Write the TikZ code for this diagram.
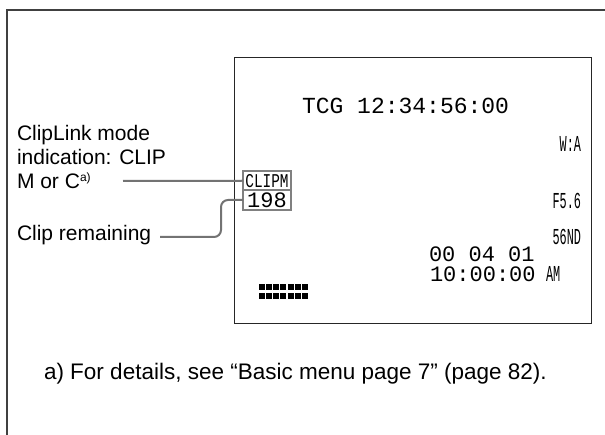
\documentclass[tikz,border=0pt]{standalone}
\usepackage{fontspec}
\setmainfont{Liberation Sans}
\newfontfamily\lcd{Liberation Mono}
\newfontfamily\lcdn[FakeStretch=0.52]{Liberation Mono}
\newfontfamily\lcdc[FakeStretch=0.74]{Liberation Mono}
\begin{document}
\begin{tikzpicture}[x=1pt,y=-1pt,
  txt/.style={inner sep=0pt,outer sep=0pt,anchor=base west},
  lbl/.style={txt,font=\fontsize{21}{24}\selectfont},
  lcdbig/.style={txt,font=\fontsize{23}{24}\selectfont\lcd},
  lcdmid/.style={txt,font=\fontsize{22}{24}\selectfont\lcd},
  lcdsmall/.style={inner sep=0pt,outer sep=0pt,anchor=base east,font=\fontsize{22.8}{24}\selectfont\lcdn},
  frame/.style={line width=1.4pt,draw=black!75},
  screen/.style={line width=1.3pt,draw=black!85},
  gbox/.style={draw=black!50,line width=2pt,minimum width=48pt,inner sep=0pt,outer sep=0pt},
  leader/.style={draw=black!55,line width=2pt}
]
\useasboundingbox (0,0) rectangle (605,435);
% page frame (top and left edges)
\coordinate (pgtr) at (606,10);
\coordinate (pgtl) at (7,10);
\coordinate (pgbl) at (7,436);
\draw[frame] (pgtr) -- (pgtl) -- (pgbl);
% viewfinder screen
\node[screen,rectangle,minimum width=357pt,minimum height=266pt,anchor=north west,inner sep=0pt] (scr) at (234,57) {};
% screen texts
\node[lcdbig] (tcg) at (302,114) {TCG 12:34:56:00};
\node[lcdsmall] (wa) at (581,152) {W:A};
\node[lcdsmall] (fno) at (581,209) {F5.6};
\node[lcdsmall] (nd) at (581,245) {56ND};
\node[lcdmid] (date) at (429,262) {00 04 01};
\node[lcdmid] (time) at (430,282) {10:00:00};
\node[txt,font=\fontsize{22.8}{24}\selectfont\lcdn] (am) at (546,282) {AM};
% battery blocks
\foreach \r in {0,1}{
  \foreach \i in {0,...,6}{
    \fill (259+7.15*\i,284.5+9*\r) rectangle +(6,5.5);
  }
}
% boxed CLIPM and 198
\node[gbox,minimum height=19.5pt,anchor=north west,font=\fontsize{19.5}{20}\selectfont\lcdc] (clipm) at (243,171) {CLIPM};
\node[gbox,minimum height=20pt,anchor=north west,font=\fontsize{22}{22}\selectfont\lcd] (rem) at (243,190) {198};
% labels
\node[lbl] (l1) at (17,141) {ClipLink mode};
\node[lbl] (l2) at (17,165) {indication: CLIP};
\node[lbl] (l3) at (17,189) {M or C\raisebox{7pt}{\fontsize{12}{12}\selectfont a)}};
\node[lbl] (l4) at (17,241) {Clip remaining};
% leaders
\coordinate (c1) at (123,181);
\coordinate (c2) at (160,237);
\draw[leader] (c1) -- (clipm.west);
\draw[leader,rounded corners=7pt] (c2) -- (221,237) -- (221,200) -- (rem.west);
% footnote
\node[txt,font=\fontsize{22.5}{26}\selectfont] (fn) at (44,380) {a) For details, see “Basic menu page 7” (page 82).};
\end{tikzpicture}
\end{document}
